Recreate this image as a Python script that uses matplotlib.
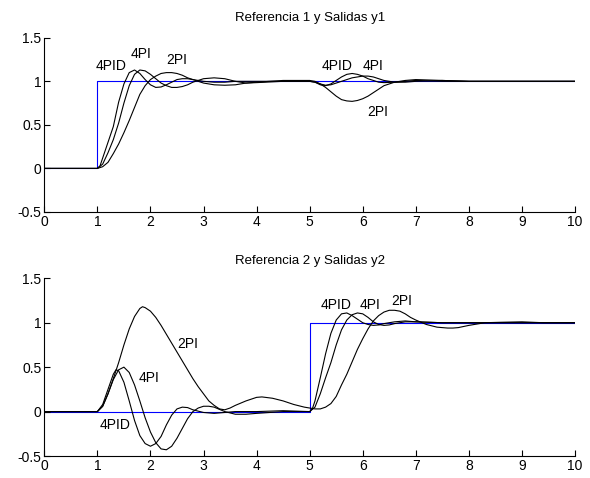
import matplotlib
matplotlib.use("Agg")
import matplotlib.pyplot as plt

plt.rcParams['font.family'] = ['Liberation Sans', 'DejaVu Sans']

# ---------------- data: subplot 1 (reference 1, outputs y1) ----------------
ref1_t = [0, 1, 1, 10]
ref1_y = [0, 0, 1, 1]

y1_4pid_t = [0, 1.0, 1.05, 1.1, 1.2, 1.3, 1.4, 1.5, 1.6, 1.7, 1.8, 1.9, 2.0, 2.1, 2.2, 2.3, 2.4, 2.5,
             2.6, 2.7, 2.8, 3.0, 3.2, 3.4, 3.6, 4.0, 4.5, 5.0, 5.1, 5.2, 5.3, 5.4, 5.5, 5.6, 5.7, 5.8,
             5.9, 6.0, 6.1, 6.2, 6.3, 6.4, 6.6, 6.8, 7.0, 7.5, 8, 9, 10]
y1_4pid = [0, 0.0, 0.03, 0.12, 0.30, 0.48, 0.76, 0.97, 1.10, 1.13, 1.09, 1.02, 0.96, 0.93, 0.935, 0.96,
           0.99, 1.02, 1.03, 1.03, 1.02, 1.0, 0.99, 0.99, 1.0, 1.0, 1.0, 1.0, 0.99, 0.96, 0.95, 0.97,
           1.01, 1.05, 1.08, 1.09, 1.08, 1.06, 1.03, 1.01, 0.99, 0.985, 0.99, 1.0, 1.01, 1.0, 1.0, 1.0, 1.0]

y1_4pi_t = [0, 1.0, 1.1, 1.2, 1.3, 1.4, 1.5, 1.6, 1.7, 1.8, 1.9, 2.0, 2.1, 2.2, 2.3, 2.4, 2.5, 2.6, 2.7,
            2.8, 3.0, 3.2, 3.4, 3.6, 3.8, 4.0, 4.5, 5.0, 5.1, 5.2, 5.3, 5.4, 5.5, 5.6, 5.7, 5.8, 5.9,
            6.0, 6.1, 6.2, 6.3, 6.4, 6.6, 6.8, 7.0, 7.5, 8, 9, 10]
y1_4pi = [0, 0, 0.05, 0.18, 0.33, 0.52, 0.75, 0.95, 1.08, 1.13, 1.12, 1.08, 1.03, 0.98, 0.95, 0.93,
          0.93, 0.94, 0.96, 0.99, 1.03, 1.04, 1.03, 1.0, 0.98, 0.985, 1.0, 1.0, 0.99, 0.97, 0.955, 0.96,
          0.98, 1.0, 1.02, 1.04, 1.05, 1.06, 1.06, 1.05, 1.03, 1.01, 0.99, 0.99, 1.0, 1.01, 1.0, 1.0, 1.0]

y1_2pi_t = [0, 1.0, 1.1, 1.2, 1.3, 1.4, 1.5, 1.6, 1.7, 1.8, 1.9, 2.0, 2.1, 2.2, 2.3, 2.4, 2.5, 2.6, 2.7,
            2.8, 3.0, 3.2, 3.4, 3.6, 3.8, 4.0, 4.5, 5.0, 5.1, 5.2, 5.3, 5.4, 5.5, 5.6, 5.7, 5.8, 5.9,
            6.0, 6.1, 6.2, 6.3, 6.4, 6.6, 6.8, 7.0, 7.5, 8, 9, 10]
y1_2pi = [0, 0, 0.02, 0.07, 0.17, 0.28, 0.41, 0.55, 0.70, 0.85, 0.95, 1.02, 1.06, 1.09, 1.10, 1.10,
          1.09, 1.07, 1.04, 1.02, 0.98, 0.96, 0.955, 0.96, 0.98, 0.99, 1.01, 1.01, 1.0, 0.97, 0.93,
          0.88, 0.83, 0.79, 0.775, 0.77, 0.78, 0.80, 0.83, 0.87, 0.91, 0.95, 0.99, 1.01, 1.02, 1.01,
          1.0, 1.0, 1.0]

# ---------------- data: subplot 2 (reference 2, outputs y2) ----------------
ref2_t = [0, 5, 5, 10]
ref2_y = [0, 0, 1, 1]

y2_4pid_t = [0, 1.0, 1.1, 1.2, 1.3, 1.35, 1.4, 1.5, 1.6, 1.7, 1.8, 1.9, 2.0, 2.1, 2.2, 2.3, 2.4, 2.5,
             2.6, 2.7, 2.8, 3.0, 3.2, 3.4, 3.6, 4.0, 4.5, 5.0, 5.05, 5.1, 5.2, 5.3, 5.4, 5.5, 5.6, 5.7,
             5.8, 5.9, 6.0, 6.1, 6.2, 6.3, 6.4, 6.6, 6.8, 7.0, 7.5, 8, 9, 10]
y2_4pid = [0, 0, 0.08, 0.25, 0.42, 0.47, 0.46, 0.33, 0.12, -0.10, -0.27, -0.36, -0.39, -0.36, -0.28,
           -0.15, -0.04, 0.03, 0.05, 0.045, 0.02, -0.01, -0.02, -0.01, 0.0, 0.0, 0.01, 0.0, 0.03, 0.12,
           0.38, 0.65, 0.88, 1.03, 1.10, 1.11, 1.08, 1.04, 1.0, 0.98, 0.97, 0.975, 0.99, 1.01, 1.02,
           1.01, 1.0, 1.0, 1.0, 1.0]

y2_4pi_t = [0, 1.0, 1.1, 1.2, 1.3, 1.4, 1.5, 1.6, 1.7, 1.8, 1.9, 2.0, 2.1, 2.2, 2.3, 2.4, 2.5, 2.6, 2.7,
            2.8, 2.9, 3.0, 3.1, 3.2, 3.4, 3.6, 3.8, 4.0, 4.5, 5.0, 5.1, 5.2, 5.3, 5.4, 5.5, 5.6, 5.7,
            5.8, 5.9, 6.0, 6.1, 6.2, 6.3, 6.4, 6.5, 6.6, 6.8, 7.0, 7.5, 8, 9, 10]
y2_4pi = [0, 0, 0.06, 0.20, 0.36, 0.47, 0.50, 0.44, 0.30, 0.12, -0.07, -0.23, -0.35, -0.42, -0.43,
          -0.39, -0.30, -0.19, -0.08, 0.0, 0.04, 0.06, 0.06, 0.05, 0.0, -0.03, -0.03, -0.02, 0.0, 0.0,
          0.05, 0.20, 0.38, 0.55, 0.75, 0.92, 1.03, 1.09, 1.11, 1.10, 1.06, 1.01, 0.98, 0.97, 0.975,
          0.99, 1.01, 1.01, 1.0, 1.0, 1.0, 1.0]

y2_2pi_t = [0, 1.0, 1.1, 1.2, 1.3, 1.4, 1.5, 1.6, 1.7, 1.8, 1.85, 1.9, 2.0, 2.1, 2.2, 2.3, 2.4, 2.5,
            2.6, 2.7, 2.8, 2.9, 3.0, 3.1, 3.2, 3.3, 3.4, 3.5, 3.6, 3.8, 4.0, 4.1, 4.3, 4.5, 4.7, 4.9,
            5.0, 5.1, 5.2, 5.3, 5.4, 5.5, 5.6, 5.7, 5.8, 5.9, 6.0, 6.1, 6.2, 6.3, 6.4, 6.5, 6.6, 6.7,
            6.8, 6.9, 7.0, 7.2, 7.4, 7.6, 7.7, 7.8, 8.0, 8.3, 8.6, 9.0, 9.4, 10]
y2_2pi = [0, 0, 0.06, 0.20, 0.37, 0.55, 0.75, 0.93, 1.07, 1.16, 1.18, 1.17, 1.13, 1.06, 0.97, 0.87,
          0.77, 0.67, 0.57, 0.47, 0.37, 0.28, 0.20, 0.12, 0.07, 0.03, 0.02, 0.04, 0.07, 0.12, 0.16,
          0.165, 0.15, 0.12, 0.08, 0.05, 0.04, 0.03, 0.03, 0.05, 0.09, 0.17, 0.30, 0.42, 0.56, 0.70,
          0.82, 0.93, 1.02, 1.08, 1.12, 1.14, 1.14, 1.13, 1.10, 1.06, 1.03, 0.98, 0.95, 0.94, 0.94,
          0.945, 0.97, 1.0, 1.005, 1.01, 1.0, 1.0]

# labels: (text, x, y)
labels1 = [("4PID", 1.25, 1.18), ("4PI", 1.82, 1.31), ("2PI", 2.50, 1.25),
           ("4PID", 5.51, 1.18), ("4PI", 6.19, 1.18), ("2PI", 6.28, 0.65)]
labels2 = [("2PI", 2.71, 0.76), ("4PI", 1.97, 0.38), ("4PID", 1.33, -0.15),
           ("4PID", 5.49, 1.205), ("4PI", 6.13, 1.205), ("2PI", 6.73, 1.25)]

titles = ["Referencia 1 y Salidas y1", "Referencia 2 y Salidas y2"]
title_pads = [12, 10]
xticks = list(range(0, 11))
yticks = [-0.5, 0, 0.5, 1, 1.5]
ytick_labels = ["-0.5", "0", "0.5", "1", "1.5"]

fig = plt.figure(figsize=(5.9, 4.78), dpi=100)
ax1 = fig.add_axes([0.0751, 0.5565, 0.8995, 0.3645])
ax2 = fig.add_axes([0.0751, 0.046, 0.8995, 0.3718])

series = [
    (ax1, ref1_t, ref1_y, [(y1_4pid_t, y1_4pid), (y1_4pi_t, y1_4pi), (y1_2pi_t, y1_2pi)], labels1, titles[0], title_pads[0]),
    (ax2, ref2_t, ref2_y, [(y2_4pid_t, y2_4pid), (y2_4pi_t, y2_4pi), (y2_2pi_t, y2_2pi)], labels2, titles[1], title_pads[1]),
]

for ax, rt, ry, outs, labs, title, pad in series:
    for t, y in outs:
        ax.plot(t, y, color='black', lw=0.8)
    ax.plot(rt, ry, color='#0000ff', lw=0.8, zorder=1)
    for txt, x, y in labs:
        ax.text(x, y, txt, ha='center', va='center', fontsize=10)
    ax.set_xlim(0, 10)
    ax.set_ylim(-0.5, 1.5)
    ax.set_xticks(xticks)
    ax.set_yticks(yticks)
    ax.set_yticklabels(ytick_labels)
    ax.spines['top'].set_visible(False)
    ax.spines['right'].set_visible(False)
    ax.spines['left'].set_linewidth(0.8)
    ax.spines['bottom'].set_linewidth(0.8)
    ax.tick_params(direction='in', length=4, width=0.8, labelsize=10, pad=2)
    ax.set_title(title, fontsize=9.5, pad=pad)

fig.savefig("out.png", dpi=100)
